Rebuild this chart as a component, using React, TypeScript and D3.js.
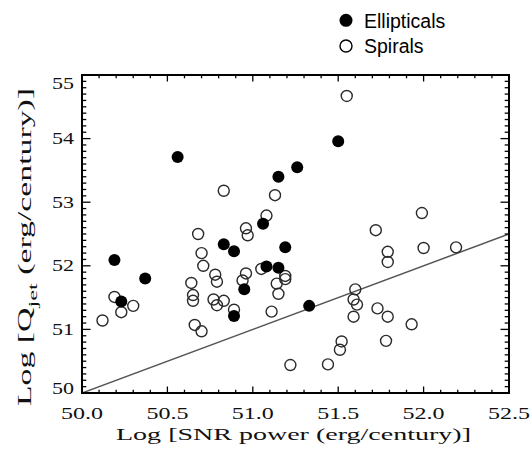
import React from "react";
import * as d3 from "d3";

const ELL_X = [50.19, 50.23, 50.37, 50.56, 50.83, 50.89, 50.89, 50.95, 51.06, 51.08, 51.15, 51.19, 51.15, 51.26, 51.5, 51.33];
const ELL_Y = [52.09, 51.44, 51.8, 53.71, 52.34, 52.23, 51.21, 51.63, 52.66, 51.99, 51.97, 52.29, 53.4, 53.55, 53.96, 51.37];

const SPI_X = [50.12, 50.19, 50.23, 50.3, 50.68, 50.7, 50.71, 50.64, 50.65, 50.65, 50.66, 50.7, 50.78, 50.79, 50.77, 50.79, 50.83, 50.89, 50.94, 50.96, 50.96, 50.97, 51.05, 51.11, 51.14, 51.15, 51.19, 51.19, 51.22, 50.83, 51.13, 51.08, 51.55, 51.99, 51.72, 51.79, 51.79, 52.0, 52.19, 51.6, 51.59, 51.61, 51.59, 51.73, 51.79, 51.93, 51.78, 51.52, 51.51, 51.44];
const SPI_Y = [51.14, 51.51, 51.27, 51.37, 52.5, 52.2, 52.0, 51.73, 51.54, 51.45, 51.07, 50.97, 51.86, 51.75, 51.47, 51.38, 51.45, 51.31, 51.77, 51.88, 52.59, 52.48, 51.95, 51.28, 51.72, 51.56, 51.84, 51.79, 50.44, 53.18, 53.11, 52.79, 54.67, 52.83, 52.56, 52.22, 52.06, 52.28, 52.29, 51.63, 51.47, 51.39, 51.2, 51.33, 51.2, 51.08, 50.82, 50.81, 50.68, 50.45];

const FIT_X = [50, 52.5];
const FIT_Y = [50, 52.5];

const X_TICKS = [50.0, 50.5, 51.0, 51.5, 52.0, 52.5];
const X_TICK_LABELS = ["50.0", "50.5", "51.0", "51.5", "52.0", "52.5"];
const Y_TICKS = [50, 51, 52, 53, 54, 55];
const Y_TICK_LABELS = ["50", "51", "52", "53", "54", "55"];

const LEGEND_LABELS = ["Ellipticals", "Spirals"];

const X_TITLE = "Log [SNR power (erg/century)]";

export default function App() {
  const W = 532, H = 454;
  const L = 82, R = 509, T = 75, B = 393;
  const x = d3.scaleLinear().domain([50, 52.5]).range([L, R]);
  const y = d3.scaleLinear().domain([50, 55]).range([B, T]);
  const serif = "'Liberation Serif', 'Times New Roman', serif";
  const sans = "'Liberation Sans', Arial, sans-serif";

  const xMinor = d3.range(0, 26).map((i) => 50 + i * 0.1);
  const yMinor = d3.range(0, 51).map((i) => 50 + i * 0.1);
  const xMajLen = 6.5, xMinLen = 3.3, yMajLen = 8.5, yMinLen = 4.3;

  const line = d3.line<number>().x((_, i) => x(FIT_X[i])).y((_, i) => y(FIT_Y[i]));

  return (
    <svg width={W} height={H} style={{ position: "absolute", left: 0, top: 0 }}>
      <rect x={0} y={0} width={W} height={H} fill="#fff" />
      <defs>
        <clipPath id="plotclip">
          <rect x={L} y={T} width={R - L} height={B - T} />
        </clipPath>
      </defs>
      <path d={line(FIT_X) || ""} stroke="#555" strokeWidth={1.5} fill="none" clipPath="url(#plotclip)" />
      {SPI_X.map((v, i) => (
        <circle key={"s" + i} cx={x(v)} cy={y(SPI_Y[i])} r={5.5} fill="none" stroke="#2a2a2a" strokeWidth={1.4} />
      ))}
      {ELL_X.map((v, i) => (
        <circle key={"e" + i} cx={x(v)} cy={y(ELL_Y[i])} r={6} fill="#000" />
      ))}
      <g stroke="#000" strokeWidth={1.3}>
        {xMinor.map((v, i) => {
          const major = i % 5 === 0;
          const len = major ? xMajLen : xMinLen;
          const px = x(v);
          return (
            <g key={"xt" + i}>
              <line x1={px} x2={px} y1={B} y2={B - len} />
              <line x1={px} x2={px} y1={T} y2={T + len} />
            </g>
          );
        })}
        {yMinor.map((v, i) => {
          const major = i % 10 === 0;
          const len = major ? yMajLen : yMinLen;
          const py = y(v);
          return (
            <g key={"yt" + i}>
              <line x1={L} x2={L + len} y1={py} y2={py} />
              <line x1={R} x2={R - len} y1={py} y2={py} />
            </g>
          );
        })}
      </g>
      <rect x={L} y={T} width={R - L} height={B - T} fill="none" stroke="#000" strokeWidth={2} />
      {X_TICKS.map((v, i) => (
        <text key={"xl" + i} x={x(v)} y={419} textAnchor="middle" fontFamily={serif} fontSize={16}
          textLength={42} lengthAdjust="spacingAndGlyphs" fill="#111">
          {X_TICK_LABELS[i]}
        </text>
      ))}
      {Y_TICKS.map((v, i) => {
        const c = Math.min(Math.max(y(v), T + 8), B - 5);
        return (
          <text key={"yl" + i} x={74} y={c + 5.5} textAnchor="end" fontFamily={serif} fontSize={16.5}
            textLength={22} lengthAdjust="spacingAndGlyphs" fill="#111">
            {Y_TICK_LABELS[i]}
          </text>
        );
      })}
      <text x={293.5} y={440} textAnchor="middle" fontFamily={serif} fontSize={17.5}
        textLength={355} lengthAdjust="spacingAndGlyphs" fill="#111">
        {X_TITLE}
      </text>
      <text transform={`translate(31, 247) rotate(-90)`} textAnchor="middle" fontFamily={serif} fontSize={18}
        textLength={318} lengthAdjust="spacingAndGlyphs" fill="#111">
        Log [Q<tspan fontSize={13} dy={6}>jet</tspan><tspan dy={-6}> (erg/century)]</tspan>
      </text>
      <circle cx={346} cy={20.3} r={6.5} fill="#000" />
      <text x={364} y={27.5} fontFamily={sans} fontSize={19.5} fill="#000">{LEGEND_LABELS[0]}</text>
      <circle cx={346} cy={46} r={6} fill="none" stroke="#000" strokeWidth={1.4} />
      <text x={364} y={52.5} fontFamily={sans} fontSize={19.5} fill="#000">{LEGEND_LABELS[1]}</text>
    </svg>
  );
}
